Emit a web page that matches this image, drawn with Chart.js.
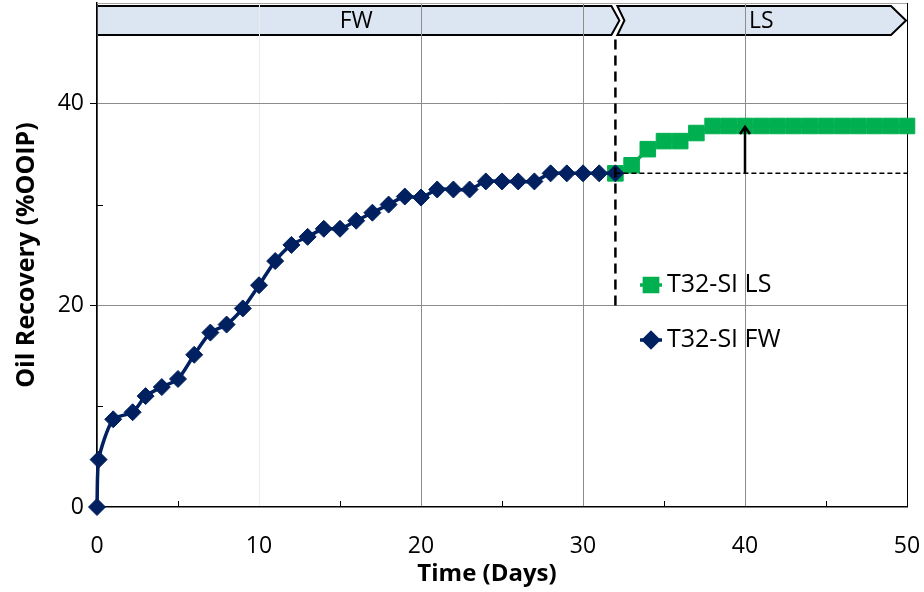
<!DOCTYPE html>
<html><head><meta charset="utf-8">
<script src="https://cdn.jsdelivr.net/npm/chart.js@4/dist/chart.umd.min.js"></script>
<style>html,body{margin:0;padding:0;background:#fff}#wrap{width:924px;height:592px;position:relative}canvas{display:block}</style>
</head><body><div id="wrap"><canvas id="c" width="924" height="592" style="width:924px;height:592px"></canvas></div>
<script>
// ---- data ----
const fwDays = [0,0.1,1,2.2,3,4,5,6,7,8,9,10,11,12,13,14,15,16,17,18,19,20,21,22,23,24,25,26,27,28,29,30,31,32];
const fwRecovery = [0,4.7,8.7,9.4,11.0,11.9,12.7,15.1,17.3,18.1,19.7,22.0,24.4,26.0,26.8,27.6,27.6,28.4,29.2,30.0,30.8,30.7,31.5,31.5,31.5,32.3,32.3,32.3,32.3,33.1,33.1,33.1,33.1,33.1];
const lsDays = [32,33,34,35,36,37,38,39,40,41,42,43,44,45,46,47,48,49,50];
const lsRecovery = [33.1,33.9,35.5,36.3,36.3,37.1,37.8,37.8,37.8,37.8,37.8,37.8,37.8,37.8,37.8,37.8,37.8,37.8,37.8];
const seriesNames = ['T32-SI FW','T32-SI LS'];
const xTicks = [0,10,20,30,40,50];
const yTicks = [0,20,40];
const xMinorTicks = [5,15,25,35,45];
const yMinorTicks = [10,30];
const phaseNames = ['FW','LS'];
const phaseBounds = [0,32,50];
const switchLineX = [32,32];
const switchLineY = [20,46.7];
const baseLineX = [32,50];
const baseLineY = [33.1,33.1];
const arrowDay = 40;
const arrowFromTo = [33.1,37.8];
const xTitle = 'Time (Days)';
const yTitle = 'Oil Recovery (%OOIP)';

const FONT = '"Open Sans", Lato, sans-serif';
const BLUE = '#002060', GREEN = '#00b050';

const pts = (xs, ys) => xs.map((x,i)=>({x:x,y:ys[i]}));

const overlay = {
  id:'overlay',
  beforeDraw(chart){
    const ctx = chart.ctx, xs = chart.scales.x;
    ctx.save();
    ctx.lineWidth = 2; ctx.strokeStyle = '#000'; ctx.fillStyle = '#dce6f2';
    const top = 6, bot = 35, mid = (top+bot)/2;
    const a0 = xs.getPixelForValue(phaseBounds[0]), a1 = xs.getPixelForValue(phaseBounds[1]);
    const b1 = xs.getPixelForValue(phaseBounds[2]);
    ctx.beginPath();
    ctx.moveTo(a0, top); ctx.lineTo(a1-4, top); ctx.lineTo(a1+4, mid); ctx.lineTo(a1-4, bot); ctx.lineTo(a0, bot); ctx.closePath();
    ctx.fill(); ctx.stroke();
    ctx.beginPath();
    ctx.moveTo(a1+2, top); ctx.lineTo(b1-16, top); ctx.lineTo(b1-1, mid); ctx.lineTo(b1-16, bot); ctx.lineTo(a1+2, bot); ctx.lineTo(a1+9, mid); ctx.closePath();
    ctx.fill(); ctx.stroke();
    ctx.fillStyle = '#000'; ctx.font = '23px ' + FONT; ctx.textAlign = 'center'; ctx.textBaseline = 'middle';
    ctx.fillText(phaseNames[0], (a0+a1)/2, mid+1);
    ctx.fillText(phaseNames[1], (a1+b1)/2, mid+1);
    ctx.restore();
  },
  afterDatasetsDraw(chart){
    const ctx = chart.ctx, xs = chart.scales.x, ys = chart.scales.y, ca = chart.chartArea;
    ctx.save();
    ctx.strokeStyle = '#a6a6a6'; ctx.lineWidth = 1;
    ctx.beginPath(); ctx.moveTo(ca.left, ca.top+0.5); ctx.lineTo(ca.right, ca.top+0.5); ctx.stroke();
    ctx.strokeStyle = '#000'; ctx.lineWidth = 1;
    xMinorTicks.forEach(v=>{ const px = Math.round(xs.getPixelForValue(v))+0.5;
      ctx.beginPath(); ctx.moveTo(px, ca.bottom); ctx.lineTo(px, ca.bottom-6); ctx.stroke(); });
    yMinorTicks.forEach(v=>{ const py = Math.round(ys.getPixelForValue(v))+0.5;
      ctx.beginPath(); ctx.moveTo(ca.left, py); ctx.lineTo(ca.left+6, py); ctx.stroke(); });
    const ax = xs.getPixelForValue(arrowDay), ay0 = ys.getPixelForValue(arrowFromTo[0]), ay1 = ys.getPixelForValue(arrowFromTo[1]);
    ctx.strokeStyle = '#000'; ctx.lineWidth = 2.5;
    ctx.beginPath(); ctx.moveTo(ax, ay0); ctx.lineTo(ax, ay1+1); ctx.stroke();
    ctx.beginPath(); ctx.moveTo(ax-5, ay1+8); ctx.lineTo(ax, ay1+1); ctx.lineTo(ax+5, ay1+8); ctx.stroke();
    ctx.fillStyle = '#000'; ctx.font = 'bold 24px ' + FONT; ctx.textAlign = 'center'; ctx.textBaseline = 'middle';
    ctx.fillText(xTitle, 487, 574);
    const entries = [{ds:1, y:285},{ds:0, y:340}];
    ctx.font = '25px ' + FONT; ctx.textAlign = 'left';
    entries.forEach(e=>{
      const d = chart.data.datasets[e.ds];
      ctx.strokeStyle = d.borderColor; ctx.lineWidth = 3.5;
      ctx.beginPath(); ctx.moveTo(640, e.y); ctx.lineTo(662, e.y); ctx.stroke();
      Chart.helpers.drawPoint(ctx, {pointStyle:d.pointStyle, radius:d.pointRadius*0.85, borderWidth:1, rotation:0}, 651, e.y);
      ctx.fillStyle = d.backgroundColor; ctx.fill();
      ctx.fillStyle = '#000';
      ctx.fillText(seriesNames[e.ds], 667, e.y);
    });
    ctx.restore();
  }
};

new Chart(document.getElementById('c'), {
  type:'scatter',
  data:{ datasets:[
    {label:seriesNames[0], data:pts(fwDays,fwRecovery), showLine:true, borderColor:BLUE, backgroundColor:BLUE,
     borderWidth:3.5, pointStyle:'rectRot', pointRadius:8.5, pointBorderWidth:1, tension:0.25, clip:false, order:1},
    {label:seriesNames[1], data:pts(lsDays,lsRecovery), showLine:true, borderColor:GREEN, backgroundColor:GREEN,
     borderWidth:3.5, pointStyle:'rect', pointRadius:11, pointBorderWidth:1, tension:0, clip:false, order:2},
    {label:'switch', data:pts(switchLineX,switchLineY), showLine:true, borderColor:'#000', borderWidth:2.5,
     borderDash:[10,6], pointRadius:0, clip:false, order:0},
    {label:'base', data:pts(baseLineX,baseLineY), showLine:true, borderColor:'#000', borderWidth:1.5,
     borderDash:[5,3], pointRadius:0, clip:false, order:0}
  ]},
  options:{
    responsive:false, animation:false, devicePixelRatio:1,
    layout:{autoPadding:false, padding:{top:3,right:17,left:0,bottom:0}},
    plugins:{legend:{display:false}, tooltip:{enabled:false}},
    scales:{
      x:{type:'linear', min:0, max:50,
        afterBuildTicks:s=>{s.ticks = xTicks.map(v=>({value:v}));},
        afterFit:s=>{s.height = 85; s.paddingLeft = 0; s.paddingRight = 0;},
        ticks:{font:{family:FONT,size:23}, color:'#000', padding:26, maxRotation:0},
        grid:{drawTicks:false, lineWidth:1, color:c=>c.tick && c.tick.value===10 ? '#ececec' : (c.tick && c.tick.value===50 ? '#000' : '#8c8c8c')},
        border:{color:'#000', width:1.5}
      },
      y:{min:0, max:50,
        afterBuildTicks:s=>{s.ticks = yTicks.map(v=>({value:v}));},
        afterFit:s=>{s.width = 97; s.paddingTop = 0; s.paddingBottom = 0;},
        ticks:{font:{family:FONT,size:23}, color:'#000', padding:6},
        grid:{drawTicks:true, tickLength:7, tickColor:'#000', lineWidth:1, color:c=>c.tick && c.tick.value===0 ? 'rgba(0,0,0,0)' : '#8c8c8c'},
        border:{color:'#000', width:1.5},
        title:{display:true, text:yTitle, font:{family:FONT,size:25,weight:'bold'}, color:'#000', padding:{top:12,bottom:0}}
      }
    }
  },
  plugins:[overlay]
});
</script></body></html>
